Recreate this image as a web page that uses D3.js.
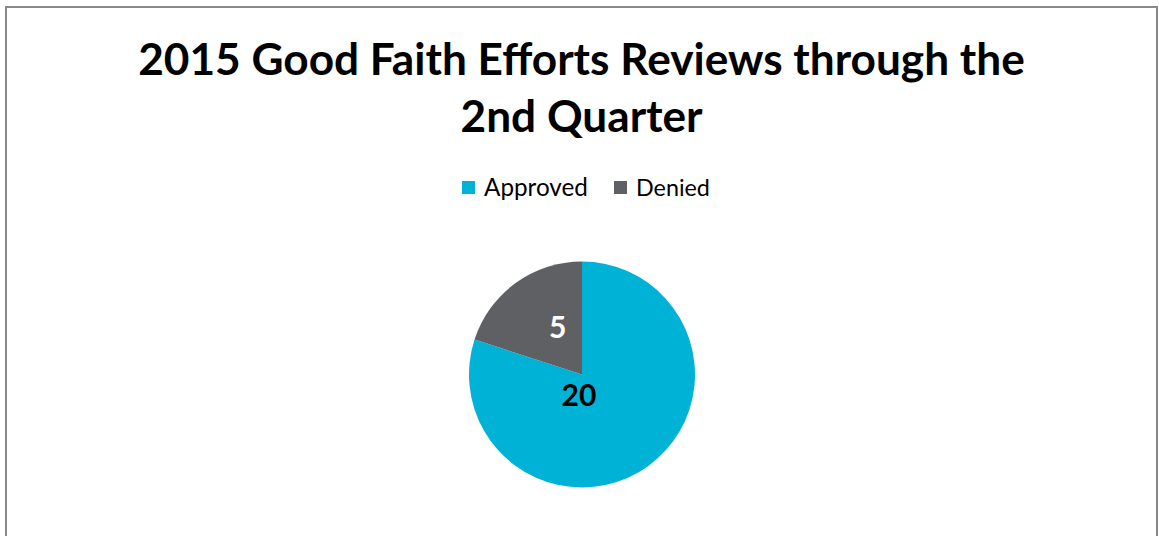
<!DOCTYPE html>
<html>
<head>
<meta charset="utf-8">
<script src="https://cdn.jsdelivr.net/npm/d3@7"></script>
<style>
  html, body { margin: 0; padding: 0; background: #fff; overflow: hidden; }
  text { font-family: Lato, "Open Sans", sans-serif; }
</style>
</head>
<body>
<div class="chart"></div>
<script>
// data
const categories = ["Approved", "Denied"];
const values = [20, 5];
const colors = ["#00B3D6", "#5F6063"];
const labelColors = ["#000000", "#ffffff"];
const titleLines = ["2015 Good Faith Efforts Reviews through the", "2nd Quarter"];

const width = 1159;
const height = 536;

const svg = d3.select(".chart")
    .append("svg")
    .attr("width", width)
    .attr("height", height);

// chart border (bottom runs off the page)
svg.append("rect")
    .attr("x", 6)
    .attr("y", 7)
    .attr("width", 1151)
    .attr("height", 700)
    .attr("fill", "#fff")
    .attr("stroke", "#888")
    .attr("stroke-width", 2);

// shrink / grow a text node until it is the wanted width
function fitWidth(sel, target) {
    const node = sel.node();
    const size = parseFloat(sel.attr("font-size"));
    const len = node.getComputedTextLength();
    sel.attr("font-size", size * target / len);
}

// Title
const titleY = [75, 132];
const titleW = [887, 242];
titleLines.forEach((t, i) => {
    const txt = svg.append("text")
        .attr("x", 581.5)
        .attr("y", titleY[i])
        .attr("text-anchor", "middle")
        .attr("font-weight", "bold")
        .attr("font-size", 44)
        .attr("fill", "#000")
        .text(t);
    fitWidth(txt, titleW[i]);
});

// Legend
const legendX = [462, 614];
const legendTextW = [104, 74];
const legend = svg.append("g");
categories.forEach((c, i) => {
    legend.append("rect")
        .attr("x", legendX[i])
        .attr("y", 181)
        .attr("width", 13)
        .attr("height", 13)
        .attr("fill", colors[i]);
    const t = legend.append("text")
        .attr("x", legendX[i] + 22)
        .attr("y", 195.5)
        .attr("font-size", 21)
        .attr("fill", "#000")
        .text(c);
    fitWidth(t, legendTextW[i]);
});

// Pie
const cx = 582, cy = 374.5, r = 113;
const pie = d3.pie().sort(null).value(d => d.value);
const arcs = pie(categories.map((c, i) => ({ name: c, value: values[i], i: i })));
const arc = d3.arc().innerRadius(0).outerRadius(r);

const g = svg.append("g")
    .attr("transform", `translate(${cx},${cy})`);

g.selectAll("path")
    .data(arcs)
    .join("path")
    .attr("d", arc)
    .attr("fill", d => colors[d.data.i]);

// Labels: Excel-style, small slice out at mid radius, big slice near the centre
const labelArc = [d3.arc().innerRadius(0).outerRadius(r * 0.33),
                  d3.arc().innerRadius(0).outerRadius(r * 1.0)];
const labelShift = [[-14, 6], [9, -2]];
g.selectAll("text.lbl")
    .data(arcs)
    .join("text")
    .attr("class", "lbl")
    .attr("transform", d => {
        const p = labelArc[d.data.i].centroid(d);
        const s = labelShift[d.data.i];
        return `translate(${p[0] + s[0]},${p[1] + s[1]})`;
    })
    .attr("text-anchor", "middle")
    .attr("dy", "0.36em")
    .attr("font-weight", "bold")
    .attr("font-size", 30)
    .attr("fill", d => labelColors[d.data.i])
    .text(d => d.data.value);
</script>
</body>
</html>
